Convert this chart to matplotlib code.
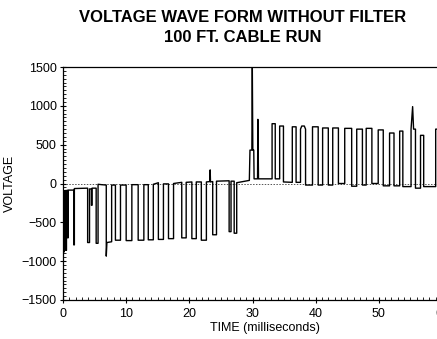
import matplotlib
matplotlib.use("Agg")
import matplotlib.pyplot as plt
from matplotlib.ticker import MultipleLocator
import numpy as np

plt.rcParams['font.family'] = ['Liberation Sans', 'DejaVu Sans']

# Traza antes del escalón (pulsos hacia abajo), t en ms, v en voltios
left_t = [0.0, 0.15, 0.15, 0.2, 0.2, 0.45, 0.45, 0.55, 0.55, 0.75, 0.75, 0.8, 0.8,
          1.7, 1.7, 1.8, 1.8, 3.9, 3.9, 4.2, 4.2, 4.5, 4.5, 4.6, 4.6,
          5.25, 5.25, 5.55, 5.55, 6.1, 6.85, 6.85, 6.95, 7.7, 7.7,
          8.3, 8.3, 9.1, 9.1, 10.0, 10.0, 10.9, 10.9, 11.9, 11.9, 12.8, 12.8,
          13.5, 13.5, 14.3, 14.3, 15.1, 15.1, 15.9, 15.9, 16.7, 16.7, 17.5, 17.5,
          18.8, 18.8, 19.5, 19.5, 20.4, 20.4, 21.1, 21.1, 21.9, 21.9, 22.7, 22.7,
          23.25, 23.3, 23.35, 23.7, 23.7, 24.3, 24.3, 26.3, 26.3, 26.6, 26.6,
          27.1, 27.1, 27.5, 27.5, 29.5]
left_v = [-90, -95, -880, -880, -95, -90, -860, -860, -90, -90, -700, -700, -85,
          -85, -790, -790, -65, -60, -760, -760, -70, -70, -280, -280, -60,
          -60, -770, -770, -10, -15, -20, -935, -760, -750, -20,
          -20, -730, -730, -20, -20, -735, -735, -15, -15, -730, -730, -15,
          -15, -725, -725, -10, 10, -720, -720, -5, -5, -710, -710, 0,
          15, -700, -700, 15, 20, -710, -710, 20, 20, -730, -730, 20,
          25, 175, 20, 25, -660, -660, 30, 35, -620, -620, 30,
          30, -640, -640, 10, 40]

# Traza después del escalón (pulsos hacia arriba)
right_t = [29.5, 29.6, 29.9, 29.97, 30.05, 30.2, 30.25, 30.8, 30.85, 30.95,
           33.1, 33.1, 33.6, 33.6, 34.3, 34.3, 34.9, 34.9,
           36.3, 36.3, 36.9, 36.9, 37.6, 37.6, 37.8, 38.2, 38.4, 38.4,
           39.5, 39.5, 40.4, 40.4, 41.1, 41.1, 42.0, 42.0,
           42.7, 42.7, 43.6, 43.6, 44.6, 44.6, 45.7, 45.7,
           46.5, 46.5, 47.4, 47.4, 48.0, 48.0, 48.9, 48.9,
           49.9, 49.9, 50.7, 50.7, 51.7, 51.7, 52.4, 52.4,
           53.3, 53.3, 53.8, 53.8, 55.1, 55.1, 55.35, 55.5, 55.8, 55.8,
           56.6, 56.6, 57.1, 57.1, 59.0, 59.0, 60.0]
right_v = [40, 430, 430, 1500, 430, 430, 60, 60, 826, 60,
           60, 770, 770, 60, 60, 740, 740, 20,
           15, 730, 730, 15, 15, 700, 740, 740, 700, -20,
           -20, 730, 730, -20, -20, 715, 715, -20,
           -20, 715, 715, 0, 0, 710, 710, -35,
           -35, 700, 700, -20, -20, 710, 710, 0,
           0, 690, 690, -30, -30, 650, 650, -30,
           -30, 675, 675, -40, -40, 700, 990, 700, 700, -60,
           -60, 620, 620, -40, -40, 700, 700]

x_ticks = [0, 10, 20, 30, 40, 50, 60]
y_ticks = [-1500, -1000, -500, 0, 500, 1000, 1500]

fig = plt.figure(figsize=(4.37, 3.39), dpi=100)
ax = fig.add_axes([63 / 437, 39 / 339, 379 / 437, 233 / 339])

ax.axhline(0, color='#555555', lw=0.7, linestyle=(0, (1.5, 1.5)), zorder=1)
ax.plot(left_t + right_t, left_v + right_v, color='black', lw=1.0, zorder=2)

ax.set_xlim(0, 60)
ax.set_ylim(-1500, 1500)
ax.set_xticks(x_ticks)
ax.set_yticks(y_ticks)
ax.xaxis.set_minor_locator(MultipleLocator(1))
ax.yaxis.set_minor_locator(MultipleLocator(50))
ax.tick_params(which='major', direction='inout', length=5, width=0.8,
               labelsize=9, pad=2, top=False, right=False)
ax.tick_params(which='minor', direction='in', length=2.5, width=0.6,
               top=False, right=False)
ax.tick_params(axis='x', which='major', pad=3)

for s in ax.spines.values():
    s.set_linewidth(0.9)

ax.set_xlabel('TIME (milliseconds)', fontsize=9)
ax.xaxis.set_label_coords(0.532, -0.095)
ax.set_ylabel('VOLTAGE', fontsize=9)
ax.yaxis.set_label_coords(-0.125, 0.5)

fig.text(0.556, 0.947, 'VOLTAGE WAVE FORM WITHOUT FILTER', ha='center', va='center',
         fontsize=12, fontweight='bold')
fig.text(0.556, 0.888, '100 FT. CABLE RUN', ha='center', va='center',
         fontsize=12, fontweight='bold')

fig.savefig('out.png', dpi=100)
